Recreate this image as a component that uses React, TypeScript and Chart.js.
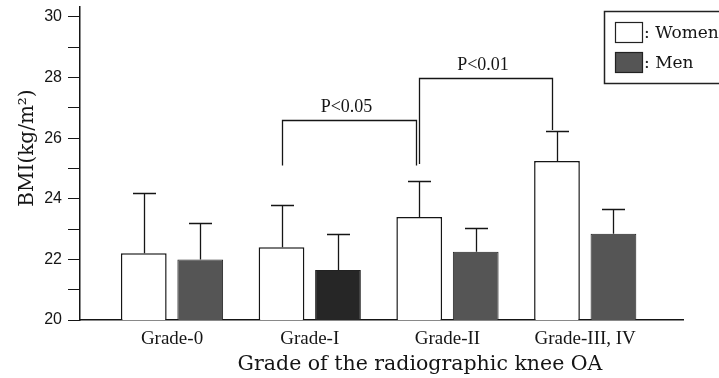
import React, { useEffect, useRef } from 'react';
import { Chart, registerables } from 'chart.js';

Chart.register(...registerables);

// ---- data ----
const categories = ['Grade-0', 'Grade-I', 'Grade-II', 'Grade-III, IV'];
const womenMean = [22.2, 22.4, 23.4, 25.25];
const womenSD = [2.0, 1.4, 1.2, 1.0];
const menMean = [22.0, 21.65, 22.25, 22.85];
const menSD = [1.2, 1.2, 0.8, 0.8];
const yTickValues = [20, 21, 22, 23, 24, 25, 26, 27, 28, 29, 30];
const yLabelValues = [20, 22, 24, 26, 28, 30];
const seriesLabels = ['Women', 'Men'];
const xTitle = 'Grade of the radiographic knee OA';
const yTitle = 'BMI(kg/m\u00B2)';
const brackets = [
  { from: 1, to: 2, label: 'P<0.05', top: 26.6, fromEnd: 25.1, toEnd: 25.1, fromDx: 0, toDx: -3 },
  { from: 2, to: 3, label: 'P<0.01', top: 27.98, fromEnd: 25.15, toEnd: 26.27, fromDx: 0, toDx: -5 },
];

// ---- styles ----
const INK = '#151515';
const MEN_FILL = '#555555';
const menFills = ['#555555', '#262626', '#555555', '#555555'];
const SERIF = '"Liberation Serif", "Times New Roman", serif';
const WIDE_SERIF = '"DejaVu Serif", serif';
const SANS = '"Liberation Sans", Arial, sans-serif';

const overlay = {
  id: 'overlay',
  afterDraw(chart: any) {
    const ctx = chart.ctx as CanvasRenderingContext2D;
    const ys = chart.scales.y;
    const mW = chart.getDatasetMeta(0);
    const mM = chart.getDatasetMeta(1);
    ctx.save();
    ctx.strokeStyle = INK;
    ctx.lineWidth = 1.3;

    const drawErr = (meta: any, means: number[], sds: number[]) => {
      meta.data.forEach((el: any, i: number) => {
        const x = Math.round(el.x) + 0.5;
        const yb = ys.getPixelForValue(means[i]);
        const yt = Math.round(ys.getPixelForValue(means[i] + sds[i])) + 0.5;
        ctx.beginPath();
        ctx.moveTo(x, yb);
        ctx.lineTo(x, yt);
        ctx.moveTo(x - 11.5, yt);
        ctx.lineTo(x + 11.5, yt);
        ctx.stroke();
      });
    };
    drawErr(mW, womenMean, womenSD);
    drawErr(mM, menMean, menSD);

    // significance brackets
    ctx.font = `18px ${SERIF}`;
    ctx.fillStyle = INK;
    ctx.textAlign = 'center';
    ctx.textBaseline = 'alphabetic';
    brackets.forEach((b) => {
      const x1 = Math.round(mW.data[b.from].x + b.fromDx) + 0.5;
      const x2 = Math.round(mW.data[b.to].x + b.toDx) + 0.5;
      const yt = Math.round(ys.getPixelForValue(b.top)) + 0.5;
      ctx.beginPath();
      ctx.moveTo(x1, ys.getPixelForValue(b.fromEnd));
      ctx.lineTo(x1, yt);
      ctx.lineTo(x2, yt);
      ctx.lineTo(x2, ys.getPixelForValue(b.toEnd));
      ctx.stroke();
      ctx.fillText(b.label, (x1 + x2) / 2 - 3, yt - 9);
    });

    // legend
    ctx.lineWidth = 1.5;
    ctx.strokeStyle = '#222';
    ctx.strokeRect(604.5, 11.5, 140, 72);
    ctx.lineWidth = 1.2;
    ctx.fillStyle = '#fff';
    ctx.fillRect(615, 22, 27, 20);
    ctx.strokeRect(615.5, 22.5, 27, 20);
    ctx.fillStyle = MEN_FILL;
    ctx.fillRect(615, 52, 27, 20);
    ctx.strokeRect(615.5, 52.5, 27, 20);
    ctx.fillStyle = INK;
    ctx.textAlign = 'left';
    ctx.font = `17px ${WIDE_SERIF}`;
    ctx.fillText(': ' + seriesLabels[0], 644, 38);
    ctx.fillText(': ' + seriesLabels[1], 644, 68);

    // axis titles
    ctx.font = `20.5px ${WIDE_SERIF}`;
    ctx.textAlign = 'center';
    ctx.fillText(xTitle, 420, 370);
    ctx.font = `20px ${WIDE_SERIF}`;
    ctx.save();
    ctx.translate(33, 148);
    ctx.rotate(-Math.PI / 2);
    ctx.fillText(yTitle, 0, 0);
    ctx.restore();

    ctx.restore();
  },
};

export default function App() {
  const ref = useRef<HTMLCanvasElement>(null);
  useEffect(() => {
    const chart = new Chart(ref.current as HTMLCanvasElement, {
      type: 'bar',
      data: {
        datasets: [
          {
            label: seriesLabels[0],
            data: categories.map((_, i) => ({ x: i, y: womenMean[i] })),
            backgroundColor: '#ffffff',
            borderColor: INK,
            borderWidth: 1.5,
            categoryPercentage: 0.82,
            barPercentage: 0.81,
          },
          {
            label: seriesLabels[1],
            data: categories.map((_, i) => ({ x: i, y: menMean[i] })),
            backgroundColor: menFills,
            borderColor: '#222',
            borderWidth: 1,
            categoryPercentage: 0.82,
            barPercentage: 0.81,
          },
        ],
      } as any,
      options: {
        animation: false,
        responsive: false,
        maintainAspectRatio: false,
        layout: { padding: { top: 7, right: 36, left: 0, bottom: 0 } },
        plugins: {
          legend: { display: false },
          tooltip: { enabled: false },
          title: { display: false },
        },
        scales: {
          x: {
            type: 'linear',
            min: -0.668,
            max: 3.71,
            offset: false,
            grid: { display: false, drawTicks: false },
            border: { display: true, color: INK, width: 1.5 },
            afterBuildTicks: (s: any) => {
              s.ticks = categories.map((_, i) => ({ value: i }));
            },
            afterFit: (s: any) => {
              s.height = 58;
              s.paddingLeft = 0;
              s.paddingRight = 0;
            },
            ticks: {
              autoSkip: false,
              maxRotation: 0,
              padding: 8,
              color: INK,
              font: { family: SERIF, size: 19 },
              callback: (v: any) => categories[Math.round(Number(v))] ?? '',
            },
          },
          y: {
            min: 20,
            max: 30.33,
            afterBuildTicks: (s: any) => {
              s.ticks = yTickValues.map((v) => ({ value: v }));
            },
            afterFit: (s: any) => {
              s.width = 80;
              s.paddingTop = 0;
              s.paddingBottom = 0;
            },
            grid: { drawOnChartArea: false, drawTicks: true, tickLength: 12, color: INK, lineWidth: 1 },
            border: { display: true, color: INK, width: 1.5 },
            ticks: {
              autoSkip: false,
              padding: 6,
              color: INK,
              font: { family: SANS, size: 16 },
              callback: (v: any) => (yLabelValues.includes(Number(v)) ? String(v) : ''),
            },
          },
        },
      } as any,
      plugins: [overlay],
    });
    return () => chart.destroy();
  }, []);
  return (
    <div style={{ position: 'absolute', left: 0, top: 0, width: 719, height: 378, background: '#fff' }}>
      <canvas ref={ref} width={719} height={378} style={{ display: 'block', width: 719, height: 378 }} />
    </div>
  );
}
